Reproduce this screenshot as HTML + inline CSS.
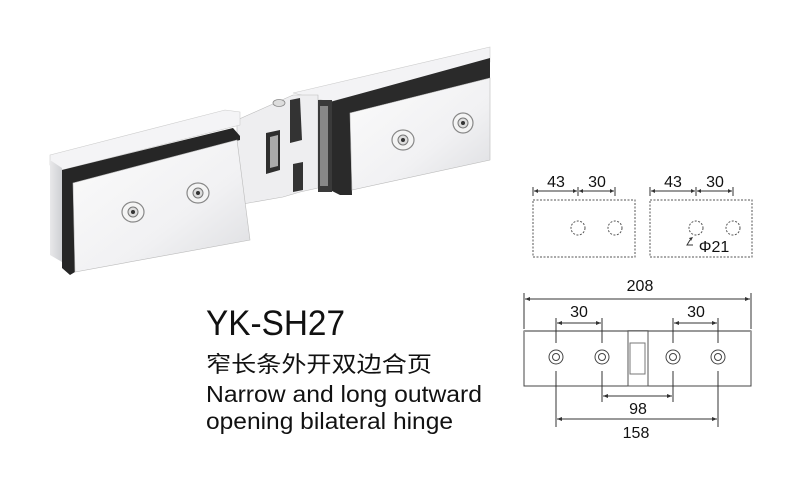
<!DOCTYPE html>
<html><head><meta charset="utf-8"><style>
html,body{margin:0;padding:0;background:#fff;}
svg{display:block;}
</style></head><body>
<svg width="800" height="480" viewBox="0 0 800 480" xmlns="http://www.w3.org/2000/svg">
<defs>
<linearGradient id="plate" x1="0" y1="0" x2="1" y2="1">
<stop offset="0" stop-color="#fbfbfb"/><stop offset="0.6" stop-color="#f1f1f3"/><stop offset="1" stop-color="#dcdde0"/>
</linearGradient>
<linearGradient id="side" x1="0" y1="0" x2="1" y2="0">
<stop offset="0" stop-color="#e8e8ea"/><stop offset="1" stop-color="#cfd0d3"/>
</linearGradient>
</defs>
<polygon points="293,93 490,47 490,62 337,100 330,102" fill="#f3f3f5" stroke="#ccc" stroke-width="0.6"/>
<polygon points="330,102 490,58 490,80 350,113 352,195 340,195 330,190" fill="#2a2a2a"/>
<polygon points="350,113 490,78 490,160 352,190" fill="url(#plate)" stroke="#bbb" stroke-width="0.6"/>
<polygon points="237,120 293,95 318,95 318,188 300,192 283,197 237,205" fill="#eeeef0" stroke="#bbb" stroke-width="0.6"/>
<rect x="318" y="100" width="14" height="92" fill="#3a3a3a"/>
<rect x="320" y="106" width="8" height="80" fill="#888"/>
<polygon points="266,133 280,130 280,170 266,174" fill="#2e2e2e"/>
<polygon points="270,137 278,135 278,166 270,168" fill="#aaa"/>
<polygon points="290,100 300,98 302,140 290,143" fill="#333"/>
<polygon points="293,164 303,162 303,190 293,192" fill="#333"/>
<ellipse cx="279" cy="103" rx="6" ry="3.5" fill="#ddd" stroke="#888" stroke-width="0.8"/>
<polygon points="50,155 225,110 240,112 240,125 62,170 50,165" fill="#f4f4f6" stroke="#ccc" stroke-width="0.6"/>
<polygon points="50,160 62,168 62,262 50,255" fill="url(#side)"/>
<polygon points="62,170 233,128 240,136 240,140 75,183 75,272 70,275 62,268" fill="#262626"/>
<polygon points="73,183 237,140 250,240 75,272" fill="url(#plate)" stroke="#bbb" stroke-width="0.6"/>
<g fill="#f4f4f4" stroke="#888" stroke-width="1.2">
<ellipse cx="133" cy="212" rx="11" ry="10"/>
<ellipse cx="198" cy="193" rx="11" ry="10"/>
<ellipse cx="403" cy="140" rx="11" ry="10"/>
<ellipse cx="463" cy="123" rx="10" ry="10"/>
</g>
<g fill="#dcdcdc" stroke="#777" stroke-width="1">
<circle cx="133" cy="212" r="5"/><circle cx="198" cy="193" r="5"/><circle cx="403" cy="140" r="5"/><circle cx="463" cy="123" r="5"/>
</g>
<g fill="#333"><circle cx="133" cy="212" r="2"/><circle cx="198" cy="193" r="2"/><circle cx="403" cy="140" r="2"/><circle cx="463" cy="123" r="2"/></g>

<g font-family="'Liberation Sans','Noto Sans CJK SC',sans-serif" fill="#111">
<text x="206" y="335" font-size="35" textLength="139" lengthAdjust="spacingAndGlyphs">YK-SH27</text>
<text x="206" y="372" font-size="22" textLength="226" lengthAdjust="spacingAndGlyphs">窄长条外开双边合页</text>
<text x="206" y="402" font-size="23" textLength="276" lengthAdjust="spacingAndGlyphs">Narrow and long outward</text>
<text x="206" y="429" font-size="23" textLength="247" lengthAdjust="spacingAndGlyphs">opening bilateral hinge</text>
</g>

<g stroke="#555" fill="none" stroke-width="1" stroke-dasharray="2,1.5">
<rect x="533" y="200" width="102" height="57"/>
<rect x="650" y="200" width="102" height="57"/>
<circle cx="578" cy="228" r="7"/><circle cx="615" cy="228" r="7"/>
<circle cx="696" cy="228" r="7"/><circle cx="733" cy="228" r="7"/>
</g>
<g stroke="#333" stroke-width="1" fill="none">
<path d="M533,187v9M578,187v9M615,187v9M534,191h43M579,191h35"/>
<path d="M650,187v9M696,187v9M733,187v9M651,191h44M697,191h35"/>
<path d="M690,240l-3,5h6"/>
</g>
<g fill="#333">
<path d="M534,191l4,-2v4z M577,191l-4,-2v4z M579,191l4,-2v4z M614,191l-4,-2v4z"/>
<path d="M651,191l4,-2v4z M695,191l-4,-2v4z M697,191l4,-2v4z M732,191l-4,-2v4z"/>
<path d="M693,237l-4,1l2,3z"/>
</g>
<g font-family="'Liberation Sans',sans-serif" font-size="16" fill="#111" text-anchor="middle">
<text x="556" y="187">43</text><text x="597" y="187">30</text>
<text x="673" y="187">43</text><text x="715" y="187">30</text>
<text x="714" y="252">Φ21</text>
</g>

<rect x="524" y="331" width="227" height="55" fill="#fff" stroke="#444" stroke-width="1"/>
<line x1="524" y1="331" x2="751" y2="331" stroke="#999" stroke-width="2"/>
<rect x="628" y="331" width="20" height="55" fill="#fff" stroke="#555" stroke-width="1"/>
<rect x="630" y="343" width="15" height="31" fill="#fff" stroke="#777" stroke-width="1"/>
<g stroke="#444" stroke-width="1" fill="#fff">
<circle cx="556" cy="357" r="7"/><circle cx="602" cy="357" r="7"/><circle cx="673" cy="357" r="7"/><circle cx="718" cy="357" r="7"/>
<circle cx="556" cy="357" r="3.5"/><circle cx="602" cy="357" r="3.5"/><circle cx="673" cy="357" r="3.5"/><circle cx="718" cy="357" r="3.5"/>
</g>
<g stroke="#333" stroke-width="1" fill="none">
<path d="M524,293v36M751,293v36M525,299h225"/>
<path d="M556,318v25M602,318v25M673,318v25M718,318v25"/>
<path d="M557,323h44M674,323h43"/>
<path d="M602,371v31M673,371v31M603,396h69"/>
<path d="M556,371v56M718,371v56M557,419h160"/>
</g>
<g fill="#333">
<path d="M525,299l5,-2v4z M750,299l-5,-2v4z"/>
<path d="M557,323l5,-2v4z M601,323l-5,-2v4z M674,323l5,-2v4z M717,323l-5,-2v4z"/>
<path d="M603,396l5,-2v4z M672,396l-5,-2v4z"/>
<path d="M557,419l5,-2v4z M717,419l-5,-2v4z"/>
</g>
<g font-family="'Liberation Sans',sans-serif" font-size="16" fill="#111" text-anchor="middle">
<text x="640" y="291">208</text>
<text x="579" y="317">30</text><text x="696" y="317">30</text>
<text x="638" y="414">98</text>
<text x="636" y="438">158</text>
</g>
</svg>
</body></html>
